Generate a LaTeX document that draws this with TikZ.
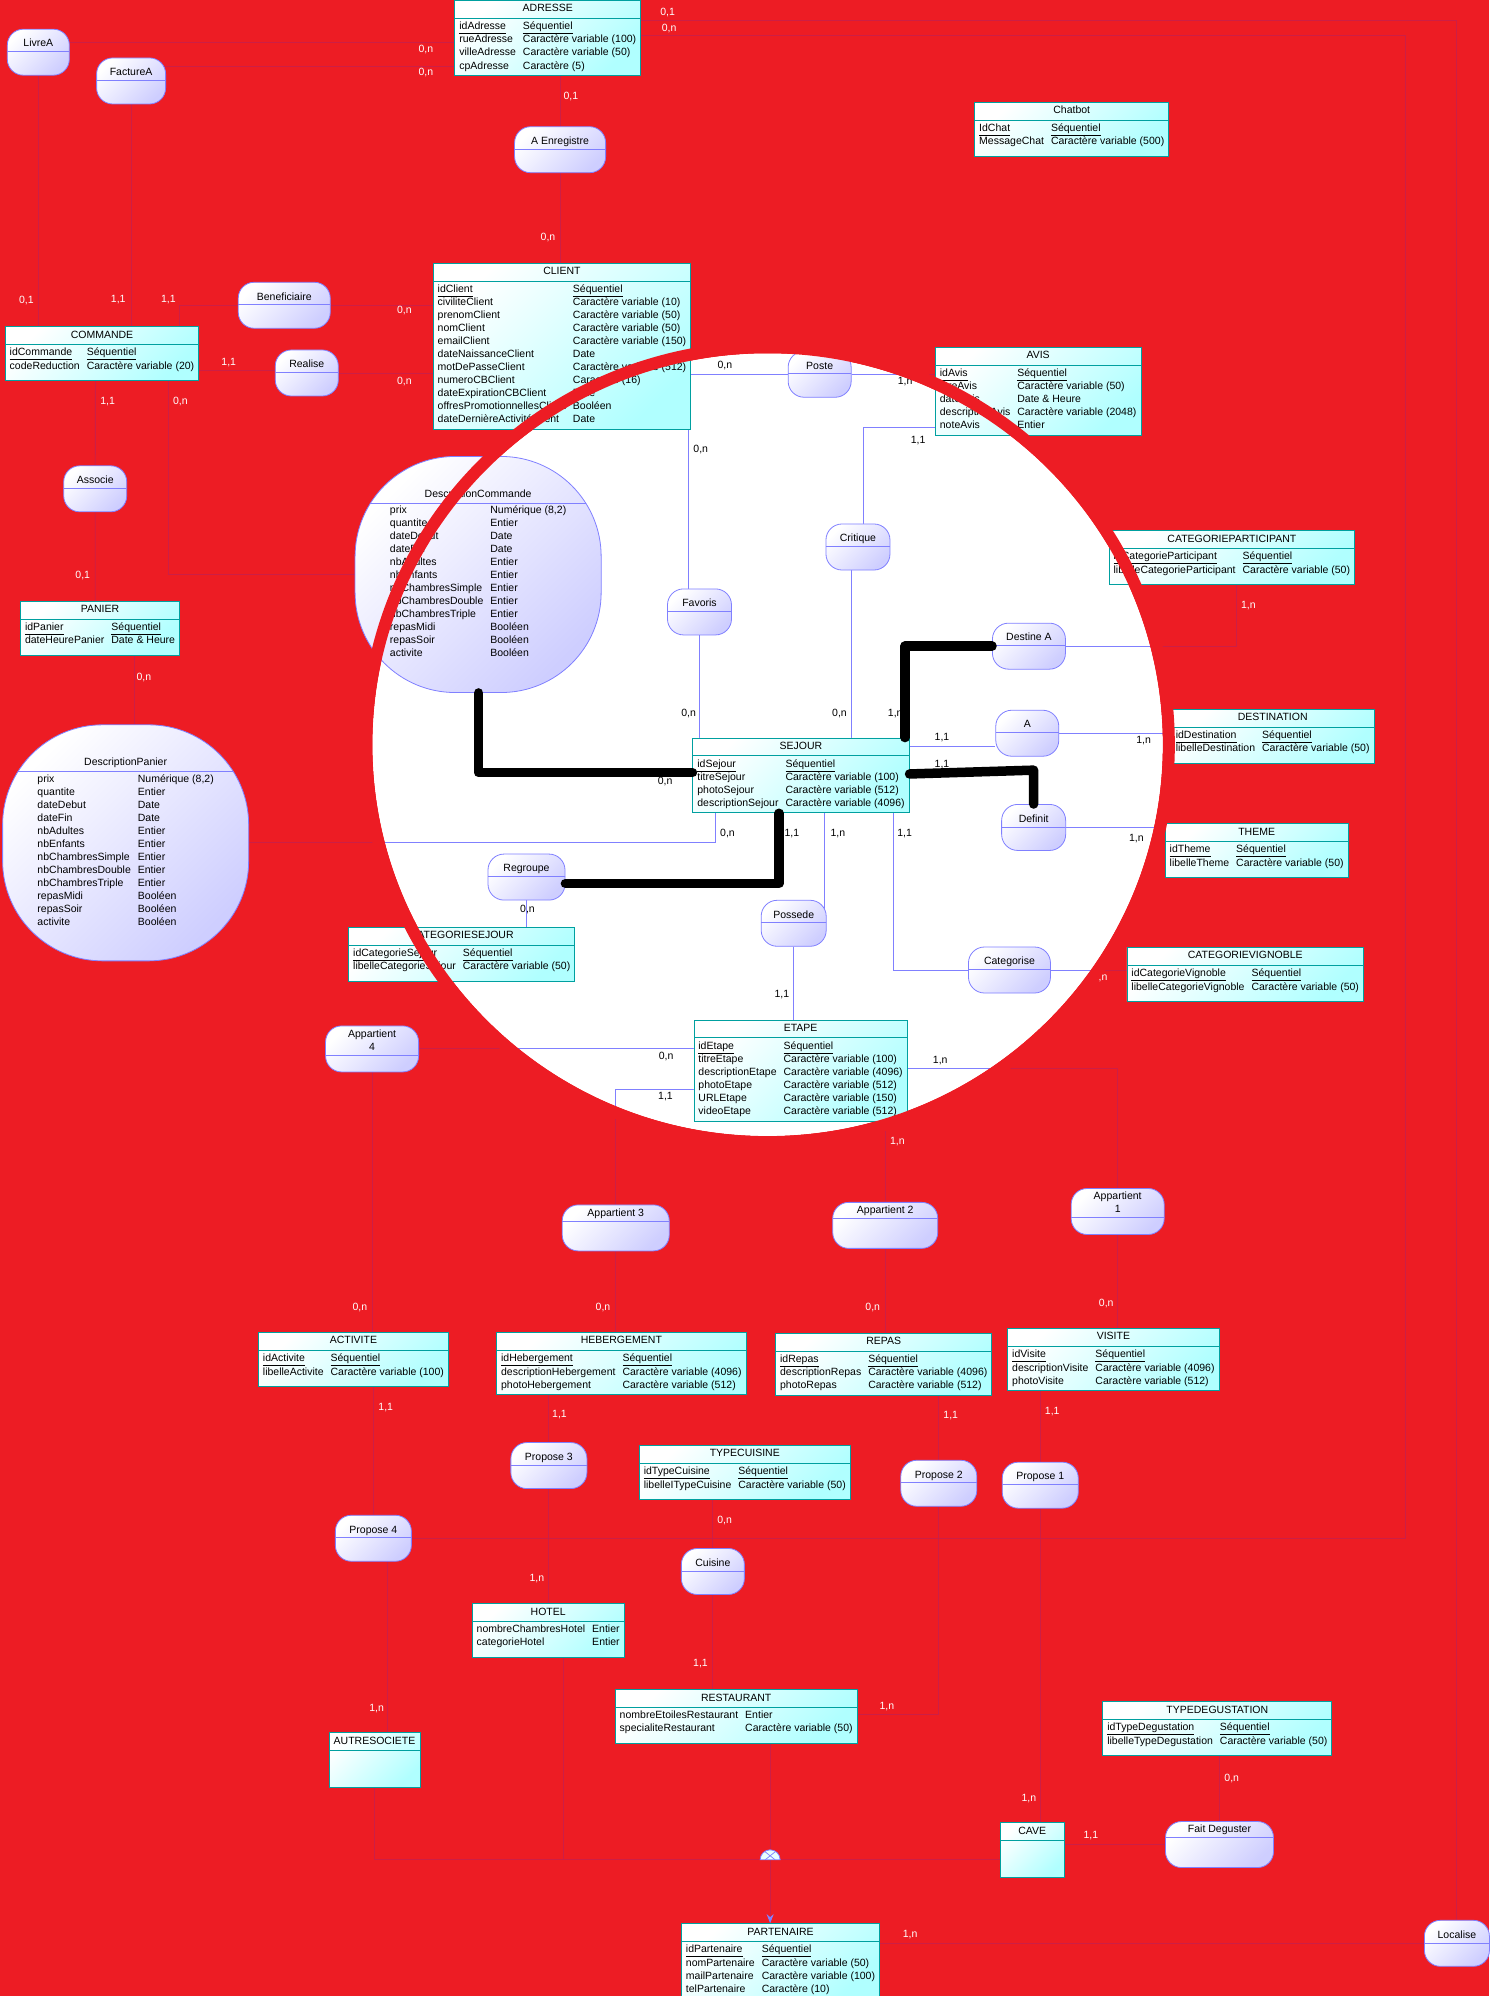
\documentclass[tikz,border=0pt]{standalone}
\usepackage{fontspec}
\setmainfont{Liberation Sans}
\usetikzlibrary{shapes.multipart,arrows.meta}

\definecolor{bgred}{RGB}{237,28,36}
\definecolor{entfill}{RGB}{176,255,255}
\definecolor{entline}{RGB}{0,160,160}
\definecolor{assfill}{RGB}{206,206,255}
\definecolor{assline}{RGB}{128,128,255}
\definecolor{linkout}{RGB}{205,30,70}

\pgfdeclarelayer{back}
\pgfdeclarelayer{front}
\pgfsetlayers{back,main,front}

\newcommand{\ent}[2]{\strut#1\nodepart{two}\begin{tabular}{@{}l@{\hspace{7pt}}l@{}}#2\end{tabular}}
\newcommand{\pk}[2]{\underline{\vphantom{q}#1} & \underline{\vphantom{q}#2}}

% thin connectors, drawn once outside and once inside the circle
\newcommand{\links}{
  \draw (livrea |- 0,33) -- (adresse.west |- 0,33);
  \draw (facturea |- 0,52) -- (adresse.west |- 0,52);
  \draw (livrea) -- (livrea |- commande.north);
  \draw (facturea) -- (facturea |- commande.north);
  \draw (beneficiaire) -| (141,0 |- commande.north);
  \draw (beneficiaire) -- (beneficiaire -| client.west);
  \draw (commande.east |- 0,291) -- (realise |- 0,291);
  \draw (realise) -- (realise -| client.west);
  \draw (commande.south -| 75,0) -- (associe) -- (associe |- panier.north);
  \draw (commande.south -| 132,0) |- (desccommande.west);
  \draw (panier.south -| 106,0) -- (descpanier.north -| 106,0);
  \draw (adresse.south -| aenregistre) -- (aenregistre) -- (aenregistre |- client.north);
  \draw (adresse.east |- 0,16) -| (localise);
  \draw (adresse.east |- 0,28) -| (propose4 -| 1104,0) -- (propose4);
  \draw (client.east |- poste) -- (poste) -- (poste -| avis.west);
  \draw (client.south -| 541,0) -- (favoris -| 541,0);
  \draw (favoris) -- (favoris |- sejour.north);
  \draw (avis.west |- 0,336) -| (critique.north -| 678,0);
  \draw (critique -| 669,0) -- (sejour.north -| 669,0);
  \draw (destinea) -| (catpart.south -| 971,0);
  \draw (sejour.east |- 0,586) -- (a.west |- 0,586);
  \draw (a) -- (a -| destination.west);
  \draw (definit) -- (definit -| theme.west);
  \draw (sejour.south -| 562,0) |- (descpanier.east);
  \draw (regroupe) -- (regroupe |- catsejour.north);
  \draw (sejour.south -| 648,0) -- (possede -| 648,0);
  \draw (possede) -- (possede |- etape.north);
  \draw (sejour.south -| 702,0) |- (categorise) -- (categorise -| catvigno.west);
  \draw (etape.west |- appart4) -- (appart4) -- (appart4 |- activite.north);
  \draw (etape.west |- 0,856) -| (appart3) -- (appart3 |- hebergement.north);
  \draw (etape.south -| appart2) -- (appart2) -- (appart2 |- repas.north);
  \draw (etape.east |- 0,839) -| (appart1) -- (appart1 |- visite.north);
  \draw (activite.south -| propose4) -- (propose4);
  \draw (propose4 -| 304.5,0) -- (autresociete.north -| 304.5,0);
  \draw (hebergement.south -| propose3) -- (propose3) -- (propose3 |- hotel.north);
  \draw (typecuisine.south -| cuisine) -- (cuisine) -- (cuisine |- restaurant.north);
  \draw (repas.south -| propose2) -- (propose2) |- (restaurant.east |- 0,1347);
  \draw (visite.south -| propose1) -- (propose1) -- (propose1 |- cave.north);
  \draw (cave.east |- faitdeguster) -- (faitdeguster) -- (faitdeguster |- typedeg.south);
  \draw (partenaire.east |- localise) -- (localise);
  \draw (autresociete) |- (heritage);
  \draw (hotel.south -| 443,0) -- (heritage -| 443,0);
  \draw (restaurant.south -| heritage) -- (heritage);
  \draw (cave.west |- heritage) -- (heritage);
}

\tikzset{
  entity/.style={rectangle split, rectangle split parts=2, draw=entline, line width=0.8pt,
    top color=white, bottom color=entfill, shading angle=45,
    inner xsep=4.5pt, inner ysep=2pt, anchor=north west},
  emptybody/.style={rectangle split empty part height=32pt, rectangle split empty part depth=0pt},
  assoc/.style={draw=assline, line width=0.8pt, rounded corners=16pt,
    top color=white, bottom color=assfill, shading angle=45,
    minimum height=46pt, inner sep=0pt, text height=7.5pt, text depth=18pt,
    path picture={\draw[assline, line width=0.8pt] ([yshift=-#1]path picture bounding box.north west) -- ++(400pt,0);}},
  assoc/.default=22.6pt,
  assoc low/.style={text depth=30.6pt},
  desc/.style={draw=assline, line width=0.8pt, rounded corners=100pt,
    top color=white, bottom color=assfill, shading angle=45,
    minimum width=246pt, minimum height=236pt, inner sep=0pt,
    path picture={\draw[assline, line width=0.8pt] ([yshift=-46.5pt]path picture bounding box.north west) -- ++(400pt,0);}},
  card in/.style={inner sep=0pt},
  card out/.style={inner sep=0pt, text=white},
  link out/.style={color=linkout, line width=0.9pt},
  link in/.style={color=assline, line width=0.9pt},
  highlight/.style={black, line width=9.5pt, line cap=round, line join=round}
}

\begin{document}
\begin{tikzpicture}[x=1.2726pt, y=-1.2726pt, font=\fontsize{10.5}{13}\selectfont]
  \useasboundingbox (0,0) rectangle (1170,1568);

  % entities
  \node[entity] (adresse) at (357,0) {\ent{ADRESSE}{\pk{idAdresse}{Séquentiel}\\ rueAdresse & Caractère variable (100)\\ villeAdresse & Caractère variable (50)\\ cpAdresse & Caractère (5)}};
  \node[entity] (chatbot) at (765.4,80) {\ent{Chatbot}{\pk{IdChat}{Séquentiel}\\ MessageChat & Caractère variable (500)\\[5pt]}};
  \node[entity] (client) at (340,206.4) {\ent{CLIENT}{\pk{idClient}{Séquentiel}\\ civiliteClient & Caractère variable (10)\\ prenomClient & Caractère variable (50)\\ nomClient & Caractère variable (50)\\ emailClient & Caractère variable (150)\\ dateNaissanceClient & Date\\ motDePasseClient & Caractère variable (512)\\ numeroCBClient & Caractère (16)\\ dateExpirationCBClient & Date\\ offresPromotionnellesClient & Booléen\\ dateDernièreActivitéClient & Date}};
  \node[entity] (commande) at (3.8,256.2) {\ent{COMMANDE}{\pk{idCommande}{Séquentiel}\\ codeReduction & Caractère variable (20)\\[5pt]}};
  \node[entity] (avis) at (734.5,272.4) {\ent{AVIS}{\pk{idAvis}{Séquentiel}\\ titreAvis & Caractère variable (50)\\ dateAvis & Date \& Heure\\ descriptionAvis & Caractère variable (2048)\\ noteAvis & Entier}};
  \node[entity] (panier) at (15.8,472) {\ent{PANIER}{\pk{idPanier}{Séquentiel}\\ dateHeurePanier & Date \& Heure\\[5pt]}};
  \node[entity] (catpart) at (871,416.5) {\ent{CATEGORIEPARTICIPANT}{\pk{idCategorieParticipant}{Séquentiel}\\ libelleCategorieParticipant & Caractère variable (50)\\[5pt]}};
  \node[entity] (destination) at (919.8,556.8) {\ent{DESTINATION}{\pk{idDestination}{Séquentiel}\\ libelleDestination & Caractère variable (50)\\[5pt]}};
  \node[entity] (sejour) at (544,579.4) {\ent{SEJOUR}{\pk{idSejour}{Séquentiel}\\ titreSejour & Caractère variable (100)\\ photoSejour & Caractère variable (512)\\ descriptionSejour & Caractère variable (4096)}};
  \node[entity] (theme) at (915,646.6) {\ent{THEME}{\pk{idTheme}{Séquentiel}\\ libelleTheme & Caractère variable (50)\\[5pt]}};
  \node[entity] (catsejour) at (273.6,728) {\ent{CATEGORIESEJOUR}{\pk{idCategorieSejour}{Séquentiel}\\ libelleCategorieSejour & Caractère variable (50)\\[5pt]}};
  \node[entity] (catvigno) at (885,744) {\ent{CATEGORIEVIGNOBLE}{\pk{idCategorieVignoble}{Séquentiel}\\ libelleCategorieVignoble & Caractère variable (50)\\[5pt]}};
  \node[entity] (etape) at (544.8,801) {\ent{ETAPE}{\pk{idEtape}{Séquentiel}\\ titreEtape & Caractère variable (100)\\ descriptionEtape & Caractère variable (4096)\\ photoEtape & Caractère variable (512)\\ URLEtape & Caractère variable (150)\\ videoEtape & Caractère variable (512)}};
  \node[entity] (activite) at (202.7,1046.4) {\ent{ACTIVITE}{\pk{idActivite}{Séquentiel}\\ libelleActivite & Caractère variable (100)\\[5pt]}};
  \node[entity] (hebergement) at (389.8,1046.4) {\ent{HEBERGEMENT}{\pk{idHebergement}{Séquentiel}\\ descriptionHebergement & Caractère variable (4096)\\ photoHebergement & Caractère variable (512)}};
  \node[entity] (repas) at (609,1047) {\ent{REPAS}{\pk{idRepas}{Séquentiel}\\ descriptionRepas & Caractère variable (4096)\\ photoRepas & Caractère variable (512)}};
  \node[entity] (visite) at (791.3,1043.3) {\ent{VISITE}{\pk{idVisite}{Séquentiel}\\ descriptionVisite & Caractère variable (4096)\\ photoVisite & Caractère variable (512)}};
  \node[entity] (typecuisine) at (501.9,1135.2) {\ent{TYPECUISINE}{\pk{idTypeCuisine}{Séquentiel}\\ libelleITypeCuisine & Caractère variable (50)\\[5pt]}};
  \node[entity] (hotel) at (370.6,1259.4) {\ent{HOTEL}{nombreChambresHotel & Entier\\ categorieHotel & Entier\\[5pt]}};
  \node[entity] (restaurant) at (483,1327) {\ent{RESTAURANT}{nombreEtoilesRestaurant & Entier\\ specialiteRestaurant & Caractère variable (50)\\[5pt]}};
  \node[entity, emptybody] (autresociete) at (258.3,1360.7) {\strut AUTRESOCIETE\nodepart{two}};
  \node[entity] (typedeg) at (866,1336.4) {\ent{TYPEDEGUSTATION}{\pk{idTypeDegustation}{Séquentiel}\\ libelleTypeDegustation & Caractère variable (50)\\[5pt]}};
  \node[entity, emptybody, minimum width=63.6pt] (cave) at (785.6,1431.4) {\strut CAVE\nodepart{two}};
  \node[entity] (partenaire) at (535,1510.8) {\ent{PARTENAIRE}{\pk{idPartenaire}{Séquentiel}\\ nomPartenaire & Caractère variable (50)\\ mailPartenaire & Caractère variable (100)\\ telPartenaire & Caractère (10)}};

  % associations with attributes
  \node[desc] (desccommande) at (375.6,451.3) {\begin{tabular}{@{}l@{\hspace{7pt}}l@{}}\multicolumn{2}{c}{DescriptionCommande}\\[3.5pt]
    prix & Numérique (8,2)\\ quantite & Entier\\ dateDebut & Date\\ dateFin & Date\\ nbAdultes & Entier\\ nbEnfants & Entier\\
    nbChambresSimple & Entier\\ nbChambresDouble & Entier\\ nbChambresTriple & Entier\\ repasMidi & Booléen\\ repasSoir & Booléen\\ activite & Booléen\end{tabular}};
  \node[desc] (descpanier) at (98.7,662.1) {\begin{tabular}{@{}l@{\hspace{7pt}}l@{}}\multicolumn{2}{c}{DescriptionPanier}\\[3.5pt]
    prix & Numérique (8,2)\\ quantite & Entier\\ dateDebut & Date\\ dateFin & Date\\ nbAdultes & Entier\\ nbEnfants & Entier\\
    nbChambresSimple & Entier\\ nbChambresDouble & Entier\\ nbChambresTriple & Entier\\ repasMidi & Booléen\\ repasSoir & Booléen\\ activite & Booléen\end{tabular}};

  % associations
  \node[assoc, minimum width=62pt] (livrea) at (30.1,41) {LivreA};
  \node[assoc, minimum width=69pt] (facturea) at (103,63.6) {FactureA};
  \node[assoc, minimum width=91pt] (aenregistre) at (440,117.6) {A Enregistre};
  \node[assoc, minimum width=92pt] (beneficiaire) at (223.3,239.8) {Beneficiaire};
  \node[assoc, minimum width=63pt] (realise) at (241,293) {Realise};
  \node[assoc, minimum width=63pt] (associe) at (74.8,384) {Associe};
  \node[assoc, minimum width=63pt] (poste) at (643.9,294) {Poste};
  \node[assoc, minimum width=64pt] (favoris) at (549.5,480.7) {Favoris};
  \node[assoc, minimum width=64pt] (critique) at (674,429.7) {Critique};
  \node[assoc, minimum width=73pt] (destinea) at (808.3,507.6) {Destine A};
  \node[assoc, minimum width=63pt] (a) at (807,576) {A};
  \node[assoc, minimum width=64pt] (definit) at (812,650) {Definit};
  \node[assoc, minimum width=77pt] (regroupe) at (413.6,689) {Regroupe};
  \node[assoc, minimum width=65pt] (possede) at (623.5,725.3) {Possede};
  \node[assoc, minimum width=82pt] (categorise) at (793,762) {Categorise};
  \node[assoc=29pt, assoc low, minimum width=93pt] (appart4) at (292.3,824) {\begin{tabular}[t]{@{}c@{}}Appartient\\4\end{tabular}};
  \node[assoc=16.3pt, assoc low, minimum width=107pt] (appart3) at (483.7,964.6) {Appartient 3};
  \node[assoc=16.3pt, assoc low, minimum width=105pt] (appart2) at (695.4,962.6) {Appartient 2};
  \node[assoc=29pt, assoc low, minimum width=93pt] (appart1) at (878,951.7) {\begin{tabular}[t]{@{}c@{}}Appartient\\1\end{tabular}};
  \node[assoc, minimum width=76pt] (propose3) at (431.2,1151.3) {Propose 3};
  \node[assoc, minimum width=76pt] (propose2) at (737.5,1165.2) {Propose 2};
  \node[assoc, minimum width=76pt] (propose1) at (817.2,1166.7) {Propose 1};
  \node[assoc, minimum width=76pt] (propose4) at (293.3,1208.4) {Propose 4};
  \node[assoc, minimum width=63pt] (cuisine) at (560,1234.5) {Cuisine};
  \node[assoc=16.3pt, assoc low, minimum width=108pt] (faitdeguster) at (958,1449) {Fait Deguster};
  \node[assoc, minimum width=65pt] (localise) at (1144.5,1526.6) {Localise};

  % inheritance
  \coordinate (heritage) at (605,1461);
  \filldraw[fill=white!70!entfill, draw=assline, line width=0.8pt] ([xshift=-10pt]heritage) arc[start angle=180, end angle=0, radius=10pt] -- cycle;
  \draw[assline, line width=0.7pt] ([xshift=-5pt]heritage) -- ([xshift=5pt, yshift=8pt]heritage)
    ([xshift=-5pt, yshift=8pt]heritage) -- ([xshift=5pt]heritage);

  % cardinalities inside the circle
  \node[card in] (ci1) at (569.4,287.3) {0,n};
  \node[card in] (ci2) at (711,299.4) {1,n};
  \node[card in] (ci3) at (550.5,353) {0,n};
  \node[card in] (ci4) at (721.3,345.7) {1,1};
  \node[card in] (ci5) at (540.9,560.5) {0,n};
  \node[card in] (ci6) at (659.5,560.5) {0,n};
  \node[card in] (ci7) at (703.3,560.5) {1,n};
  \node[card in] (ci8) at (740,579.4) {1,1};
  \node[card in] (ci9) at (898.4,582) {1,n};
  \node[card in] (ci10) at (740,601) {1,1};
  \node[card in] (ci11) at (892.7,658.6) {1,n};
  \node[card in] (ci12) at (522.5,614.2) {0,n};
  \node[card in] (ci13) at (571.5,654.8) {0,n};
  \node[card in] (ci14) at (622.1,654.8) {1,1};
  \node[card in] (ci15) at (658.2,654.8) {1,n};
  \node[card in] (ci16) at (710.6,654.8) {1,1};
  \node[card in] (ci17) at (414.4,714.5) {0,n};
  \node[card in] (ci18) at (614.2,781.3) {1,1};
  \node[card in] (ci19) at (523.3,830.3) {0,n};
  \node[card in] (ci20) at (522.8,861.8) {1,1};
  \node[card in] (ci21) at (738.6,833.5) {1,n};

  % cardinalities outside the circle
  \node[card out] (co1) at (334.6,38.8) {0,n};
  \node[card out] (co2) at (334.6,56.8) {0,n};
  \node[card out] (co3) at (524.5,9.7) {0,1};
  \node[card out] (co4) at (525.7,22.3) {0,n};
  \node[card out] (co5) at (448.5,76) {0,1};
  \node[card out] (co6) at (430.5,186.5) {0,n};
  \node[card out] (co7) at (20.7,235.7) {0,1};
  \node[card out] (co8) at (92.9,235.7) {1,1};
  \node[card out] (co9) at (132.3,235.7) {1,1};
  \node[card out] (co10) at (317.7,244.1) {0,n};
  \node[card out] (co11) at (179.7,285) {1,1};
  \node[card out] (co12) at (317.7,300) {0,n};
  \node[card out] (co13) at (84.6,315.1) {1,1};
  \node[card out] (co14) at (141.7,315.1) {0,n};
  \node[card out] (co15) at (65,452) {0,1};
  \node[card out] (co16) at (113,532) {0,n};
  \node[card out] (co17) at (980.7,475.4) {1,n};
  \node[card out] (co18) at (864.2,768.1) {1,n};
  \node[card out] (co19) at (282.7,1027.5) {0,n};
  \node[card out] (co20) at (473.7,1026.8) {0,n};
  \node[card out] (co21) at (704.9,897.1) {1,n};
  \node[card out] (co22) at (685.6,1027.5) {0,n};
  \node[card out] (co23) at (869,1024.1) {0,n};
  \node[card out] (co24) at (303,1105.9) {1,1};
  \node[card out] (co25) at (439.5,1111) {1,1};
  \node[card out] (co26) at (746.9,1111.9) {1,1};
  \node[card out] (co27) at (826.6,1108.8) {1,1};
  \node[card out] (co28) at (569.2,1194.4) {0,n};
  \node[card out] (co29) at (421.7,1240.2) {1,n};
  \node[card out] (co30) at (550.3,1307) {1,1};
  \node[card out] (co31) at (696.7,1340.6) {1,n};
  \node[card out] (co32) at (295.9,1341.9) {1,n};
  \node[card out] (co33) at (967.6,1396.9) {0,n};
  \node[card out] (co34) at (808.2,1412.6) {1,n};
  \node[card out] (co35) at (857,1442) {1,1};
  \node[card out] (co36) at (715,1519.7) {1,n};

  \begin{pgfonlayer}{back}
    \fill[bgred] (0,0) rectangle (1170,1568);
    \fill[white] (603,585) ellipse [x radius=310.5, y radius=307.5];
    \begin{scope}[link out]
      \links
    \end{scope}
    \begin{scope}
      \clip (603,585) ellipse [x radius=310.5, y radius=307.5];
      \begin{scope}[link in]
        \links
      \end{scope}
    \end{scope}
    \draw[link out, -{Stealth[length=9pt, width=7pt, color=assline]}] (heritage) -- (heritage |- partenaire.north);
  \end{pgfonlayer}

  \begin{pgfonlayer}{front}
    \draw[highlight] (desccommande.south -| 376,0) |- (sejour.west |- 0,607);
    \draw[highlight] (sejour.north -| 711,0) |- (destinea.west);
    \draw[highlight] (sejour.east |- 0,608) -- (812,605) -- (definit.north -| 812,0);
    \draw[highlight] (sejour.south -| 612,0) |- (regroupe.east |- 0,694);
    \draw[bgred, line width=12pt] (603,585) ellipse [x radius=315.2, y radius=312.2];
  \end{pgfonlayer}
\end{tikzpicture}
\end{document}
